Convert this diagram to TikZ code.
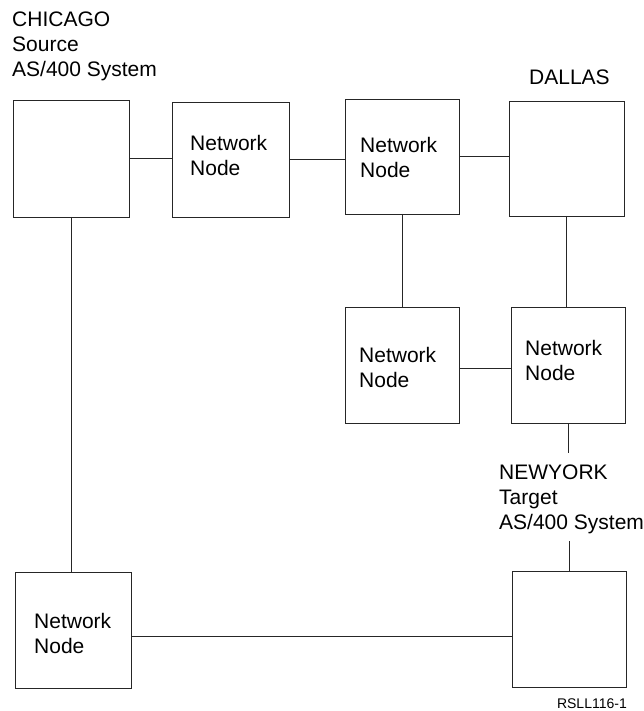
\documentclass[tikz,border=0pt]{standalone}
\usepackage{fontspec}
\setmainfont{Liberation Sans}
\begin{document}
\begin{tikzpicture}[x=1pt,y=-1pt,
  box/.style={draw=black!85, line width=0.9pt, inner sep=0pt, outer sep=0pt},
  link/.style={draw=black!85, line width=0.8pt},
  lbl/.style={anchor=base west, inner sep=0pt, align=left,
    font=\fontsize{21}{25}\selectfont},
  tag/.style={anchor=base east, inner sep=0pt,
    font=\fontsize{14}{16}\selectfont}]
  \useasboundingbox (0,0) rectangle (644,711);

  % systems and network nodes
  \node[box, minimum width=116pt, minimum height=117pt] (chi) at (71,158.5) {};
  \node[box, minimum width=117pt, minimum height=115pt] (nn1) at (230.5,159.5) {};
  \node[box, minimum width=114pt, minimum height=115pt] (nn2) at (402,156.5) {};
  \node[box, minimum width=115pt, minimum height=115pt] (dal) at (566.5,158.5) {};
  \node[box, minimum width=114pt, minimum height=116pt] (nn3) at (402,365) {};
  \node[box, minimum width=114pt, minimum height=116pt] (nn4) at (568,365) {};
  \node[box, minimum width=116pt, minimum height=116pt] (nn5) at (73,630) {};
  \node[box, minimum width=114pt, minimum height=116pt] (ny)  at (569,629) {};

  % texts (anchored at the baseline of their last line)
  \node[lbl] (chil) at (12,77) {CHICAGO\\Source\\AS/400 System};
  \node[lbl] (dall) at (529,85) {DALLAS};
  \node[lbl] (nyl)  at (499,529) {NEWYORK\\Target\\AS/400 System};
  \node[lbl] (t1) at (190,176) {Network\\Node};
  \node[lbl] (t2) at (360,178) {Network\\Node};
  \node[lbl] (t3) at (359,387) {Network\\Node};
  \node[lbl] (t4) at (525,380) {Network\\Node};
  \node[lbl] (t5) at (34,653)  {Network\\Node};
  \node[tag] (fig) at (627,708) {RSLL116-1};

  % links
  \coordinate (nyt) at (569,453);
  \coordinate (nyb) at (569,541);
  \draw[link] (chi.east) -- (chi.east -| nn1.west);
  \draw[link] (nn1.east) -- (nn1.east -| nn2.west);
  \draw[link] (nn2.east) -- (nn2.east -| dal.west);
  \draw[link] (nn2.south) -- (nn2.south |- nn3.north);
  \draw[link] (dal.south) -- (dal.south |- nn4.north);
  \draw[link] ([yshift=-3pt]nn3.east) -- ([yshift=-3pt]nn3.east -| nn4.west);
  \draw[link] (nn4.south) -- (nn4.south |- nyt);
  \draw[link] (nyb) -- (ny.north);
  \draw[link] (chi.south) -- (chi.south |- nn5.north);
  \draw[link] ([yshift=-6pt]nn5.east) -- ([yshift=-6pt]nn5.east -| ny.west);
\end{tikzpicture}
\end{document}
